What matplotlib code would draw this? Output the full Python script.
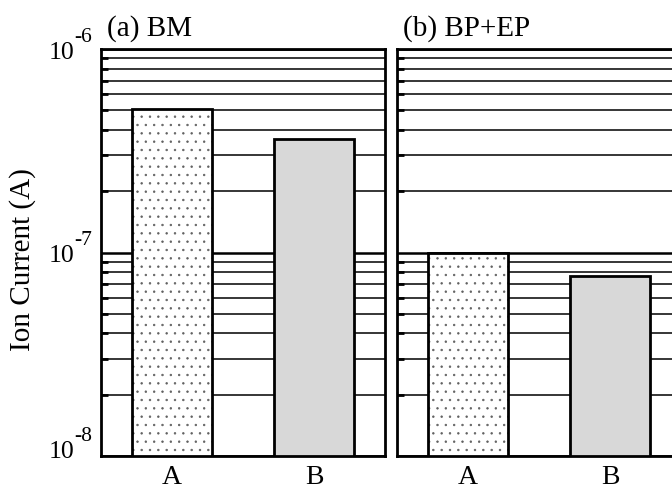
import matplotlib
matplotlib.use("Agg")
import matplotlib.pyplot as plt
import matplotlib.transforms as mtransforms
from matplotlib.ticker import LogLocator, NullFormatter, FixedLocator

plt.rcParams["font.family"] = ["Liberation Serif", "DejaVu Serif"]
plt.rcParams["hatch.linewidth"] = 0.5

# Data
categories = ["A", "B"]
panel_titles = ["(a) BM", "(b) BP+EP"]
bm_current = [5.05e-7, 3.63e-7]
bpep_current = [0.99e-7, 7.65e-8]
panel_values = [bm_current, bpep_current]
ytick_values = [1e-8, 1e-7, 1e-6]
ytick_exponents = ["-8", "-7", "-6"]
y_floor = 1e-8

fig = plt.figure(figsize=(6.72, 4.89), dpi=100)
W, H = 672.0, 489.0
bottom = (H - 457) / H
height = 407 / H
width = 284 / W
lefts = [101 / W, 397 / W]

fs = 21
tick_fs = 18.5
sup_fs = 15.5
for i, (left, title, vals) in enumerate(zip(lefts, panel_titles, panel_values)):
    ax = fig.add_axes([left, bottom, width, height])
    ax.set_yscale("log")
    ax.set_ylim(y_floor, 1e-6)
    ax.set_xlim(-0.5, 1.5)

    # gridlines at every minor/major step of the decade
    ax.yaxis.set_major_locator(FixedLocator(ytick_values))
    ax.yaxis.set_minor_locator(LogLocator(base=10, subs=range(2, 10)))
    ax.yaxis.set_minor_formatter(NullFormatter())
    ax.yaxis.set_major_formatter(NullFormatter())
    ax.grid(True, which="minor", axis="y", color="black", linewidth=1.1, zorder=0)
    ax.grid(True, which="major", axis="y", color="black", linewidth=1.8, zorder=0)
    ax.set_axisbelow(True)

    # bars start at the axis floor, so height = value - floor
    ax.bar(0, vals[0] - y_floor, width=0.56, bottom=y_floor, facecolor="white",
           edgecolor="#606060", linewidth=0, hatch="..", zorder=3)
    ax.bar(0, vals[0] - y_floor, width=0.56, bottom=y_floor, facecolor="none",
           edgecolor="black", linewidth=2, zorder=4)
    ax.bar(1, vals[1] - y_floor, width=0.56, bottom=y_floor, facecolor="#d8d8d8",
           edgecolor="black", linewidth=2, zorder=3)

    ax.set_xticks([0, 1])
    ax.set_xticklabels(categories, fontsize=20)
    ax.tick_params(axis="x", length=0, pad=6)
    ax.tick_params(axis="y", which="minor", direction="in", length=5, width=2)
    ax.tick_params(axis="y", which="major", direction="in", length=0)

    if i == 0:
        # "10" with a raised exponent, hyphen style like the original
        trans = mtransforms.blended_transform_factory(ax.transAxes, ax.transData)
        for k, (val, expo) in enumerate(zip(ytick_values, ytick_exponents)):
            lift = 5.5 if k == 0 else 0.0  # bottom label sits a bit higher
            base_off = mtransforms.ScaledTranslation(0, (-6.2 + lift) / 72, fig.dpi_scale_trans)
            sup_off = mtransforms.ScaledTranslation(0.5 / 72, (6.0 + lift) / 72, fig.dpi_scale_trans)
            ax.text(-0.095, val, "10", transform=trans + base_off, fontsize=tick_fs,
                    ha="right", va="baseline", clip_on=False)
            ax.text(-0.095, val, expo, transform=trans + sup_off, fontsize=sup_fs,
                    ha="left", va="baseline", clip_on=False)
        ax.set_ylabel("Ion Current (A)", fontsize=fs)
        ax.yaxis.set_label_coords(-(101 - 36) / 284, 0.485)

    for sp in ax.spines.values():
        sp.set_linewidth(2)

    ax.text(0.02, 1.02, title, transform=ax.transAxes, fontsize=fs,
            ha="left", va="bottom")

fig.savefig("out.png", dpi=100)
plt.close(fig)
